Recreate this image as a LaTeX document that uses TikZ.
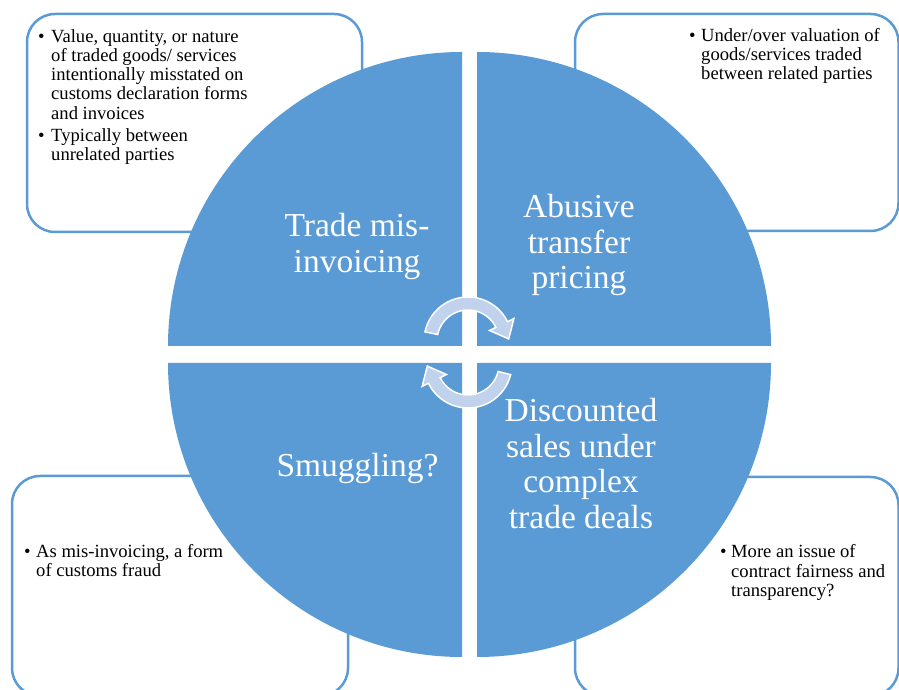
\documentclass[tikz,border=0pt]{standalone}
\usepackage{fontspec}
\setmainfont{Liberation Serif}
\usetikzlibrary{calc}
\definecolor{pieblue}{HTML}{5B9BD5}
\definecolor{arrowfill}{RGB}{193,210,236}
\newcommand{\bulitem}[1]{\hangindent=#1\hangafter=1\noindent\makebox[#1][l]{\textbullet}}
\begin{document}
\begin{tikzpicture}[x=1pt,y=1pt,
  infobox/.style={draw=pieblue, line width=2.5pt, rounded corners=28pt},
  quad/.style={fill=pieblue},
  bigtext/.style={inner sep=0pt, anchor=base, text=white, font=\fontsize{33.5}{35.5}\selectfont},
  bultext/.style={inner sep=0pt, anchor=base west, text=black, font=\fontsize{18.6}{19.1}\selectfont},
  cyc/.style={fill=arrowfill, draw=white, line width=1.5pt, line join=miter}
]
\clip (0,0) rectangle (899,690);
\fill[white] (0,0) rectangle (899,690);

% rounded boxes behind the pie
\draw[infobox] (27,458) rectangle (362,676);
\draw[infobox] (575,459) rectangle (898.5,676);
\draw[infobox] (12,-6) rectangle (348,214);
\draw[infobox] (575,-6) rectangle (898.5,213);

% pie quadrants
\fill[quad] (462,344) -- (168,344) arc[start angle=180, end angle=90, radius=294] -- cycle;
\fill[quad] (477,344) -- (477,638) arc[start angle=90, end angle=0, radius=294] -- cycle;
\fill[quad] (462,327) -- (462,33) arc[start angle=270, end angle=180, radius=294] -- cycle;
\fill[quad] (477,327) -- (771,327) arc[start angle=0, end angle=-90, radius=294] -- cycle;

% cycle arrows
\coordinate (T) at (468,349);
\coordinate (B) at (468,326);
\draw[cyc] ($(T)+(168:44)$) arc[start angle=168, end angle=26, radius=44]
  -- ($(T)+(26:51)$) -- ($(T)+(26:37.5)+(-64:16)$) -- ($(T)+(26:24)$)
  -- ($(T)+(26:31)$) arc[start angle=26, end angle=168, radius=31] -- cycle;
\draw[cyc] ($(B)+(-14:44)$) arc[start angle=-14, end angle=-154, radius=44]
  -- ($(B)+(206:51)$) -- ($(B)+(206:37.5)+(116:16)$) -- ($(B)+(206:24)$)
  -- ($(B)+(206:31)$) arc[start angle=-154, end angle=-14, radius=31] -- cycle;

% quadrant titles
\node[bigtext] (tradeT) at (357,453) {\parbox[t]{240pt}{\centering Trade mis-\\invoicing}};
\node[bigtext] (abuseT) at (579,472) {\parbox[t]{240pt}{\centering Abusive\\transfer\\pricing}};
\node[bigtext] (smugT) at (357.5,213.3) {\parbox[t]{240pt}{\centering Smuggling?}};
\node[bigtext] (discT) at (581,268.3) {\parbox[t]{240pt}{\centering Discounted\\sales under\\complex\\trade deals}};

% box texts
\node[bultext] (tlText) at (38,647.3) {\parbox[t]{260pt}{%
  \bulitem{13pt}Value, quantity, or nature\\of traded goods/ services\\intentionally misstated on\\customs declaration forms\\and invoices\par
  \vspace{3.5pt}%
  \bulitem{13pt}Typically between\\unrelated parties}};
\node[bultext] (trText) at (689,648.3) {\parbox[t]{260pt}{%
  \bulitem{12pt}Under/over valuation of\\goods/services traded\\between related parties}};
\node[bultext] (blText) at (24,132.7) {\parbox[t]{260pt}{%
  \bulitem{12pt}As mis-invoicing, a form\\of customs fraud}};
\node[bultext] (brText) at (720,132) {\parbox[t]{260pt}{%
  \bulitem{11pt}More an issue of\\contract fairness and\\transparency?}};
\end{tikzpicture}
\end{document}
